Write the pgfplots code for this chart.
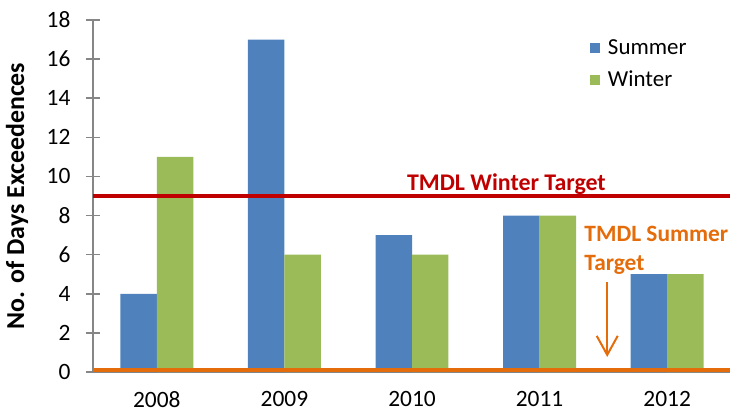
\documentclass[border=0pt]{standalone}
\usepackage{pgfplots}
\pgfplotsset{compat=1.18}
\usepackage{fontspec}
\setmainfont{Carlito}
\usetikzlibrary{arrows.meta}
\definecolor{sumblue}{HTML}{4F81BD}
\definecolor{wingreen}{HTML}{9BBB59}
\definecolor{tred}{HTML}{C00000}
\definecolor{torange}{HTML}{E46C0A}
\definecolor{axgray}{HTML}{868686}
\newcommand{\cf}{\fontsize{23.5}{27}\selectfont}
\newcommand{\lf}{\fontsize{23}{27}\selectfont}
\newcommand{\bfn}{\fontsize{24}{28}\selectfont\bfseries}
\newcommand{\bfs}{\fontsize{23.5}{28}\selectfont\bfseries}
\newcommand{\bfy}{\fontsize{26}{30}\selectfont\bfseries}
\begin{document}
\begin{tikzpicture}
\begin{axis}[
  scale only axis,
  width=638bp, height=352bp,
  xmin=-0.5, xmax=4.5, ymin=0, ymax=18,
  ytick distance=2,
  xtick={0,1,2,3,4},
  xticklabels={2008,2009,2010,2011,2012},
  axis x line*=bottom, axis y line*=left,
  axis line style={-, draw=axgray, line width=1.5bp},
  x axis line style={-}, y axis line style={-},
  major tick length=14bp, tick align=center,
  ytick style={draw=axgray, line width=1.5bp},
  xtick style={draw=none},
  ticklabel style={font=\cf},
  /pgf/number format/assume math mode=true,
  xticklabel style={yshift=-8.5bp},
  yticklabel style={xshift=-12bp},
  ylabel={No. of Days Exceedences},
  ylabel style={font=\bfy, at={(axis description cs:-0.119,0.5)}, anchor=center},
  legend cell align=left,
  legend style={at={(axis description cs:0.774,0.956)}, anchor=north west, draw=none, fill=none, font=\lf, row sep=11bp,
    /tikz/every odd column/.append style={column sep=6bp}},
  clip=false,
]
\addplot[ybar, bar width=0.286, bar shift=-0.143, fill=sumblue, draw=none,
  legend image code/.code={\fill[sumblue] (0bp,-5bp) rectangle (10bp,5bp);}]
  coordinates {(0,4) (1,17) (2,7) (3,8) (4,5)};
\addlegendentry{Summer}
\addplot[ybar, bar width=0.286, bar shift=0.143, fill=wingreen, draw=none,
  legend image code/.code={\fill[wingreen] (0bp,-5bp) rectangle (10bp,5bp);}]
  coordinates {(0,11) (1,6) (2,6) (3,8) (4,5)};
\addlegendentry{Winter}
\addplot[sharp plot, no marks, tred, line width=4.5bp, forget plot] coordinates {(-0.5,9) (4.5,9)};
\addplot[sharp plot, no marks, torange, line width=4bp, forget plot] coordinates {(-0.5,0.1) (4.5,0.1)};
\addplot[sharp plot, no marks, torange, line width=2bp, forget plot, -{Straight Barb[length=19bp,width=21bp]}] coordinates {(3.53,4.6) (3.53,0.77)};
\node[font=\bfn, text=tred, anchor=base] at (axis cs:2.74,9.3) {TMDL Winter Target};
\node[font=\bfs, text=torange, anchor=base west, inner xsep=0pt] at (axis cs:3.35,6.65) {TMDL Summer};
\node[font=\bfs, text=torange, anchor=base west, inner xsep=0pt] at (axis cs:3.35,5.2) {Target};
\coordinate (o) at (rel axis cs:0,0);
\end{axis}
\pgfresetboundingbox
\path (o) ++(-93bp,-40bp) rectangle ++(730bp,412bp);
\end{tikzpicture}
\end{document}
